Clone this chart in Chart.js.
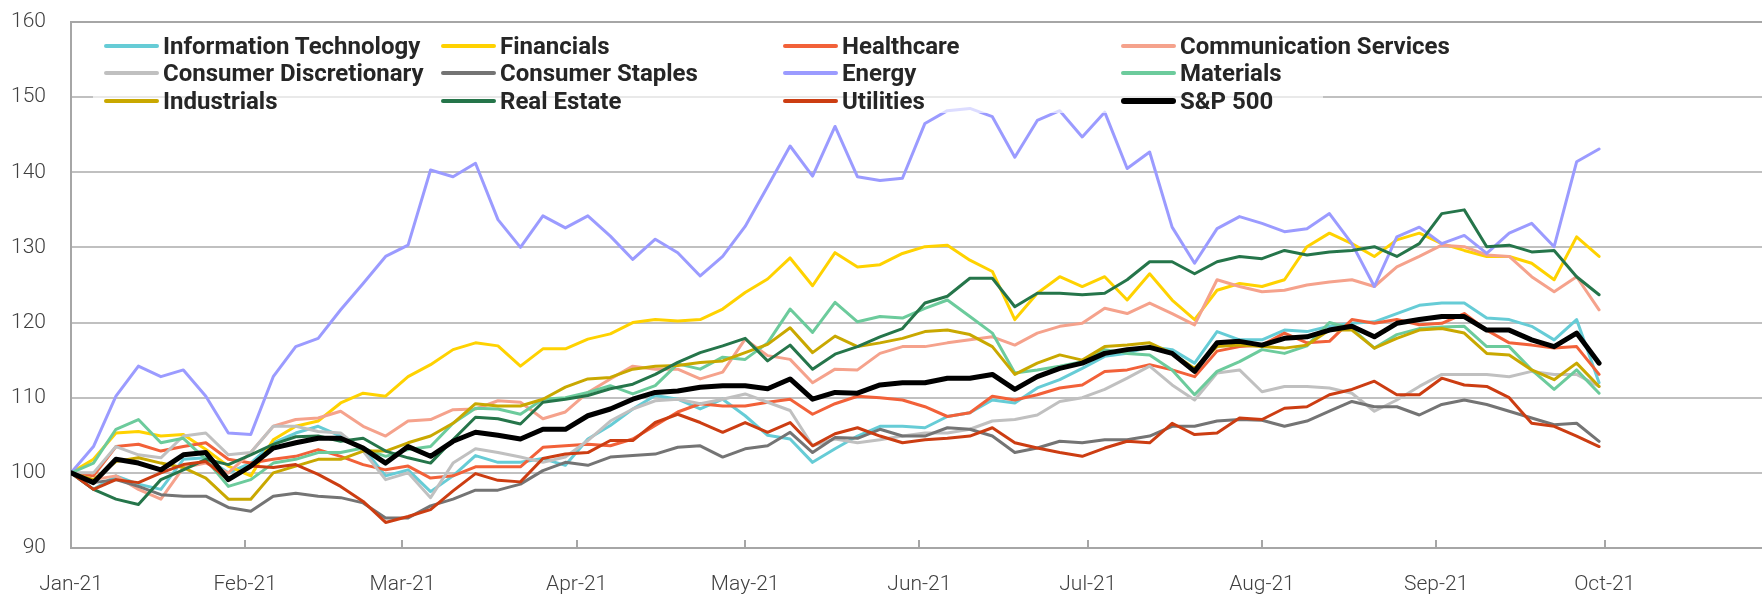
<!DOCTYPE html>
<html>
<head>
<meta charset="utf-8">
<script src="https://cdn.jsdelivr.net/npm/chart.js@4.4.1/dist/chart.umd.min.js"></script>
<style>
  html, body { margin: 0; padding: 0; background: #fff; }
  #wrap { position: relative; width: 1762px; height: 597px; }
  #legendBox {
    position: absolute; left: 93px; top: 24px; width: 1230px; height: 89px;
    background: rgba(255,255,255,0.65);
  }
  .legItem { position: absolute; height: 28px; }
  .legLine { position: absolute; top: 12px; width: 55px; border-radius: 3px; }
  .legText {
    position: absolute; left: 59px; top: 0; white-space: nowrap;
    font-family: "Roboto", "Liberation Sans", sans-serif;
    font-weight: bold; font-size: 24px; line-height: 28px; color: #262626;
  }
</style>
</head>
<body>
<div id="wrap">
  <canvas id="sectorChart" width="1762" height="597"></canvas>
  <div id="legendBox"></div>
</div>
<script>
const dates = ['2021-01-01','2021-01-05','2021-01-09','2021-01-13','2021-01-17','2021-01-21','2021-01-25','2021-01-29',
  '2021-02-02','2021-02-06','2021-02-10','2021-02-14','2021-02-18','2021-02-22','2021-02-26',
  '2021-03-02','2021-03-06','2021-03-10','2021-03-14','2021-03-18','2021-03-22','2021-03-26','2021-03-30',
  '2021-04-03','2021-04-07','2021-04-11','2021-04-15','2021-04-19','2021-04-23','2021-04-27',
  '2021-05-01','2021-05-05','2021-05-09','2021-05-13','2021-05-17','2021-05-21','2021-05-25','2021-05-29',
  '2021-06-02','2021-06-06','2021-06-10','2021-06-14','2021-06-18','2021-06-22','2021-06-26','2021-06-30',
  '2021-07-04','2021-07-08','2021-07-12','2021-07-16','2021-07-20','2021-07-24','2021-07-28',
  '2021-08-01','2021-08-05','2021-08-09','2021-08-13','2021-08-17','2021-08-21','2021-08-25','2021-08-29',
  '2021-09-02','2021-09-06','2021-09-10','2021-09-14','2021-09-18','2021-09-22','2021-09-26','2021-09-30']

const infoTech = [100,97.8,99.6,98.5,97.8,101.8,102.0,100.0,101.3,104.0,105.3,106.2,104.9,103.3,99.6,100.4,97.5,99.6,
  102.3,101.4,101.4,101.9,101.0,104.5,106.3,108.5,110.3,109.8,108.5,109.8,107.6,105.0,104.5,101.4,103.2,
  104.9,106.2,106.2,106.0,107.5,108.0,109.7,109.3,111.3,112.4,113.9,115.5,115.9,116.8,116.4,114.6,118.8,117.7,
  117.7,119.0,118.8,119.5,119.9,120.1,121.2,122.3,122.6,122.6,120.6,120.4,119.5,117.7,120.4,112.0]
const financials = [100,101.8,105.3,105.5,104.9,105.1,103.1,100.9,99.6,104.4,106.2,106.9,109.3,110.6,110.2,112.8,114.4,116.4,
  117.3,116.9,114.2,116.5,116.5,117.8,118.5,120.0,120.4,120.2,120.4,121.8,124.0,125.8,128.6,124.9,129.3,
  127.4,127.7,129.2,130.1,130.3,128.3,126.8,120.4,123.9,126.1,124.8,126.1,123.0,126.5,123.0,120.4,124.3,125.2,
  124.8,125.7,130.1,131.9,130.5,128.8,131.0,131.9,130.5,129.6,128.8,128.8,127.9,125.7,131.4,128.8]
const healthcare = [100,99.6,103.5,103.8,102.9,103.5,104.0,101.8,101.3,101.8,102.2,103.1,102.2,101.1,100.4,100.9,99.3,99.6,
  100.8,100.8,100.8,103.4,103.6,103.8,103.6,104.5,106.3,108.1,109.2,108.9,108.9,109.4,109.8,107.8,109.2,
  110.2,110.0,109.7,108.8,107.5,108.0,110.2,109.7,110.4,111.3,111.7,113.5,113.7,114.4,113.7,112.8,116.2,116.8,
  117.0,118.6,117.3,117.5,120.4,119.9,120.4,119.7,119.9,121.2,119.0,117.3,117.0,116.6,116.8,113.1]
const commServices = [100,99.1,99.6,97.8,96.5,100.7,101.3,100.0,102.7,106.2,107.1,107.3,108.2,106.2,104.9,106.9,107.1,108.4,
  108.5,109.6,109.4,107.2,108.1,110.7,112.5,114.2,113.8,113.8,112.5,113.4,117.8,115.6,115.1,112.0,113.8,
  113.7,115.9,116.8,116.8,117.3,117.7,118.1,117.0,118.6,119.5,119.9,121.9,121.2,122.6,121.2,119.7,125.7,124.8,
  124.1,124.3,125.0,125.4,125.7,124.8,127.4,128.8,130.3,130.1,129.0,128.8,126.1,124.1,126.1,121.7]
const consDisc = [100,100.0,103.5,102.4,102.0,104.9,105.3,102.4,102.7,106.2,106.2,105.5,105.3,102.9,99.1,100.0,96.7,101.3,
  103.2,102.7,102.1,101.4,102.1,104.3,106.9,108.5,109.6,109.8,109.2,109.8,110.5,109.4,108.3,103.6,104.5,
  104.0,104.4,104.9,105.3,105.3,105.8,106.9,107.1,107.7,109.5,110.0,111.1,112.6,114.2,111.7,109.7,113.3,113.7,
  110.8,111.5,111.5,111.3,110.6,108.2,109.7,111.5,113.1,113.1,113.1,112.8,113.5,113.1,113.1,111.5]
const consStaples = [100,98.7,99.1,98.2,97.1,96.9,96.9,95.4,94.9,96.9,97.3,96.9,96.7,96.0,94.0,94.0,95.6,96.5,
  97.7,97.7,98.5,100.3,101.4,101.0,102.1,102.3,102.5,103.4,103.6,102.1,103.2,103.6,105.4,102.7,104.7,
  104.6,105.8,104.9,104.9,106.0,105.8,104.9,102.7,103.3,104.2,104.0,104.4,104.4,104.9,106.2,106.2,106.9,107.1,
  107.0,106.2,106.9,108.2,109.5,108.8,108.8,107.7,109.1,109.7,109.1,108.2,107.3,106.4,106.6,104.2]
const energy = [100,103.5,110.2,114.2,112.8,113.7,110.2,105.3,105.1,112.8,116.8,117.9,121.7,125.2,128.8,130.3,140.3,139.4,
  141.2,133.7,130.0,134.2,132.6,134.2,131.5,128.4,131.1,129.3,126.2,128.8,132.8,138.1,143.5,139.5,146.1,
  139.4,138.9,139.2,146.5,148.2,148.5,147.4,142.0,146.9,148.2,144.7,148.0,140.5,142.7,132.7,127.9,132.5,134.1,
  133.2,132.1,132.5,134.5,130.5,124.8,131.4,132.7,130.5,131.6,129.2,131.9,133.2,130.1,141.4,143.1]
const materials = [100,101.3,105.8,107.1,104.0,104.6,101.8,98.2,99.1,101.3,101.8,102.7,102.7,103.3,102.2,103.1,103.5,106.6,
  108.6,108.5,107.8,109.8,110.0,110.7,111.6,110.5,111.6,114.5,113.8,115.4,115.1,117.3,121.8,118.7,122.7,
  120.1,120.8,120.6,121.9,123.0,120.8,118.6,113.3,113.7,114.2,114.8,116.4,115.9,115.7,113.7,110.4,113.5,114.8,
  116.4,115.9,116.9,120.0,119.2,116.6,118.4,119.2,119.4,119.5,116.8,116.8,113.7,111.1,113.7,110.6]
const industrials = [100,99.1,101.5,102.0,101.3,100.7,99.3,96.5,96.5,100.0,100.9,101.8,101.8,102.9,102.9,104.0,104.9,106.6,
  109.2,108.9,108.9,109.8,111.4,112.5,112.7,113.8,114.2,114.3,114.7,114.9,116.0,117.1,119.3,116.0,118.2,
  116.8,117.3,117.9,118.8,119.0,118.4,116.8,113.1,114.6,115.7,115.0,116.8,117.0,117.3,115.9,113.9,116.8,117.0,
  116.8,116.6,117.0,119.0,119.0,116.6,117.9,119.0,119.2,118.6,115.9,115.7,113.7,112.4,114.6,111.5]
const realEstate = [100,97.8,96.5,95.8,99.1,100.4,101.8,101.1,102.4,103.8,104.8,104.9,104.2,104.6,102.9,102.0,101.3,104.4,
  107.4,107.2,106.5,109.4,109.8,110.3,111.2,111.8,113.1,114.7,116.0,116.9,117.9,114.9,117.0,113.8,115.8,
  116.8,118.1,119.2,122.6,123.5,125.9,125.9,122.1,123.9,123.9,123.7,123.9,125.7,128.1,128.1,126.5,128.1,128.8,
  128.5,129.6,129.0,129.4,129.6,130.1,128.8,130.5,134.5,135.0,130.1,130.3,129.4,129.6,126.1,123.7]
const utilities = [100,97.8,99.1,98.7,100.0,101.1,101.5,99.1,100.9,100.7,101.1,99.8,98.2,96.2,93.4,94.2,95.1,97.6,
  99.9,99.0,98.8,101.9,102.5,102.7,104.3,104.3,106.7,107.8,106.7,105.4,106.7,105.4,106.7,103.6,105.2,
  106.0,104.9,104.0,104.4,104.6,104.9,106.0,104.0,103.3,102.7,102.2,103.3,104.2,104.0,106.6,105.1,105.3,107.3,
  107.1,108.6,108.8,110.4,111.1,112.2,110.4,110.4,112.6,111.7,111.5,110.0,106.6,106.2,104.9,103.5]
const sp500 = [100,98.7,101.8,101.3,100.4,102.4,102.7,99.1,100.9,103.3,104.0,104.6,104.6,103.3,101.3,103.5,102.2,104.2,
  105.4,105.0,104.5,105.8,105.8,107.6,108.5,109.8,110.7,110.9,111.4,111.6,111.6,111.2,112.5,109.8,110.7,
  110.6,111.7,112.0,112.0,112.6,112.6,113.1,111.1,112.8,113.9,114.6,115.9,116.4,116.7,115.9,113.5,117.3,117.5,
  117.0,117.9,118.1,119.0,119.5,118.1,119.9,120.4,120.8,120.8,119.0,119.0,117.7,116.8,118.6,114.6]

const seriesNames = ['Information Technology','Financials','Healthcare','Communication Services',
  'Consumer Discretionary','Consumer Staples','Energy','Materials',
  'Industrials','Real Estate','Utilities','S&P 500']
const seriesValues = [infoTech, financials, healthcare, commServices, consDisc, consStaples,
  energy, materials, industrials, realEstate, utilities, sp500]
const seriesColors = ['#66CCD6','#FFD200','#F26139','#F5A28C','#C0C0C0','#747474',
  '#9B9BFF','#6CCB9C','#C9A800','#25754A','#CC3D12','#000000']

const monthStarts = ['2021-01-01','2021-02-01','2021-03-01','2021-04-01','2021-05-01','2021-06-01',
  '2021-07-01','2021-08-01','2021-09-01','2021-10-01']
const monthLabels = ['Jan-21','Feb-21','Mar-21','Apr-21','May-21','Jun-21','Jul-21','Aug-21','Sep-21','Oct-21']
const axisEnd = '2021-10-29'

const yTicks = [90, 100, 110, 120, 130, 140, 150, 160]

const FONT = '"Roboto", "Liberation Sans", sans-serif'
const base = Date.UTC(2021, 0, 1)
function dayOf(s){
    return (Date.parse(s) - base) / 86400000
}
const monthDays = monthStarts.map(dayOf)

// little upward tick marks on the date axis, like the excel original
const innerTicks = {
    id: 'innerTicks',
    afterDraw(chart){
        const ctx = chart.ctx
        const xs = chart.scales.x
        const bottom = chart.chartArea.bottom
        ctx.save()
        ctx.strokeStyle = '#A6A6A6'
        ctx.lineWidth = 2
        monthDays.forEach(d => {
            const px = Math.round(xs.getPixelForValue(d))
            ctx.beginPath()
            ctx.moveTo(px, bottom)
            ctx.lineTo(px, bottom - 8)
            ctx.stroke()
        })
        ctx.restore()
    }
}

const datasets = seriesNames.map((name, i) => ({
    label: name,
    data: seriesValues[i].map((v, j) => ({ x: dayOf(dates[j]), y: v })),
    borderColor: seriesColors[i],
    backgroundColor: seriesColors[i],
    borderWidth: name == 'S&P 500' ? 5 : 3,
    pointRadius: 0,
    tension: 0,
    borderJoinStyle: 'round',
    borderCapStyle: 'round',
    fill: false,
    order: seriesNames.length - 1 - i
}))

const chart = new Chart(document.getElementById('sectorChart'), {
    type: 'line',
    data: { datasets: datasets },
    options: {
        responsive: false,
        animation: false,
        events: [],
        layout: { padding: { top: 22, right: 0, left: 0, bottom: 0 } },
        plugins: {
            legend: { display: false },
            tooltip: { enabled: false }
        },
        scales: {
            x: {
                type: 'linear',
                min: 0,
                max: dayOf(axisEnd),
                afterBuildTicks: scale => { scale.ticks = monthDays.map(v => ({ value: v })) },
                afterFit: scale => { scale.height = 49; scale.paddingRight = 0; scale.paddingLeft = 0 },
                ticks: {
                    autoSkip: false,
                    maxRotation: 0,
                    padding: 24,
                    color: '#404040',
                    font: { family: FONT, size: 21, weight: 300 },
                    callback: (v, i) => monthLabels[i]
                },
                grid: { display: false, drawTicks: false },
                border: { display: true, color: '#A6A6A6', width: 2 }
            },
            y: {
                min: 90,
                max: 160,
                afterBuildTicks: scale => { scale.ticks = yTicks.map(v => ({ value: v })) },
                afterFit: scale => { scale.width = 71; scale.paddingTop = 0; scale.paddingBottom = 0 },
                ticks: {
                    padding: 25,
                    color: '#404040',
                    font: { family: FONT, size: 21, weight: 300 }
                },
                grid: {
                    drawTicks: false,
                    color: c => c.tick && c.tick.value == 160 ? '#A6A6A6' : '#C0C0C0',
                    lineWidth: 2
                },
                border: { display: true, color: '#A6A6A6', width: 2 }
            }
        }
    },
    plugins: [innerTicks]
})

// legend drawn as html over the plot, 4 columns x 3 rows with a half see-through white box
const legendBox = document.getElementById('legendBox')
const colLeft = [11, 348, 690, 1028]
const rowTop = [8, 35, 63]
seriesNames.forEach((name, i) => {
    const item = document.createElement('div')
    item.className = 'legItem'
    item.style.left = colLeft[i % 4] + 'px'
    item.style.top = rowTop[Math.floor(i / 4)] + 'px'
    const line = document.createElement('div')
    line.className = 'legLine'
    line.style.background = seriesColors[i]
    line.style.height = name == 'S&P 500' ? '6px' : '4px'
    if (name == 'S&P 500') line.style.top = '11px'
    const txt = document.createElement('div')
    txt.className = 'legText'
    txt.textContent = name
    item.appendChild(line)
    item.appendChild(txt)
    legendBox.appendChild(item)
})
</script>
</body>
</html>
